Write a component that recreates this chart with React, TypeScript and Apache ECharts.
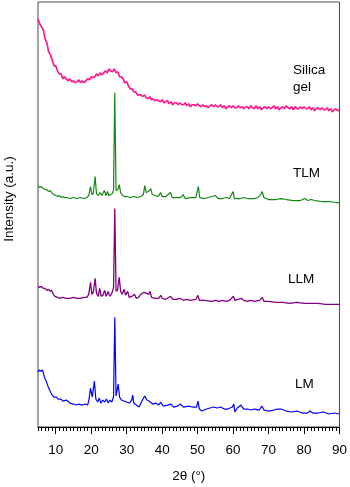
import React, { useEffect, useRef } from "react";
import * as echarts from "echarts";

// 2θ sampling grid for the silica gel pattern (degrees)
const silicaTwoTheta: number[] = Array.from({ length: 171 }, (_, i) => 5 + i * 0.5);

// Silica gel intensities (a.u., stacked offset included)
const silicaIntensity: number[] = [
  409, 404, 401, 398, 389, 385, 376, 373, 368, 362,
  362, 357, 354, 354, 349, 351, 349, 347, 349, 346,
  347, 345, 346, 348, 345, 347, 345, 347, 349, 348,
  351, 350, 351, 354, 352, 355, 353, 355, 357, 355,
  359, 357, 356, 359, 355, 356, 351, 351, 349, 345,
  346, 342, 339, 339, 336, 336, 333, 333, 333, 331,
  333, 330, 329, 331, 328, 329, 327, 328, 327, 326,
  328, 325, 326, 327, 324, 326, 323, 325, 325, 323,
  325, 323, 323, 325, 322, 324, 321, 323, 323, 322,
  324, 322, 321, 323, 321, 322, 320, 322, 323, 321,
  323, 321, 321, 323, 320, 322, 319, 321, 322, 320,
  322, 320, 320, 322, 320, 321, 319, 321, 321, 319,
  322, 320, 319, 322, 319, 321, 318, 320, 321, 319,
  321, 319, 320, 322, 319, 321, 318, 320, 321, 319,
  322, 320, 319, 321, 318, 321, 319, 319, 321, 319,
  321, 319, 319, 321, 318, 320, 317, 319, 320, 318,
  320, 318, 318, 320, 317, 319, 316, 318, 319, 317,
  318,
];

// TLM pattern: [2θ, intensity]
const tlmPattern: [number, number][] = [
  [5, 242], [5.5, 240], [6, 241], [6.5, 239], [7, 238], [7.5, 238], [8, 236], [8.5, 237],
  [9, 234], [9.5, 233], [10, 232], [10.5, 231], [11, 232], [11.5, 230], [12, 231], [12.5, 230],
  [13, 230], [14, 229], [15, 230], [16, 229], [17, 230], [18, 229], [18.8, 230], [19.3, 232],
  [19.8, 241], [20.2, 233], [20.6, 234], [21.1, 251], [21.5, 234], [22, 232], [22.5, 235],
  [23, 232], [23.7, 237], [24.2, 232], [24.6, 236], [25, 232], [25.5, 233], [26.0, 234],
  [26.3, 238], [26.65, 335], [27.0, 237], [27.5, 238], [27.9, 243], [28.3, 235], [28.8, 232],
  [29.5, 231], [30, 231], [31, 230], [32, 231], [33, 230], [34, 231], [34.7, 233], [35.1, 242],
  [35.5, 235], [36.1, 236], [36.8, 239], [37.2, 233], [38, 232], [38.8, 231], [39.6, 235],
  [40, 231], [41, 231], [42.4, 235], [42.8, 230], [44, 230], [45.2, 230], [45.9, 233],
  [46.5, 229], [48, 230], [49.5, 230], [50.2, 241], [50.6, 230], [52, 229], [53, 230],
  [55, 232], [55.8, 229], [57, 229], [58, 230], [59, 229], [60, 236], [60.4, 229], [62, 229],
  [63, 230], [64, 229], [65, 229], [66, 229], [67, 230], [67.8, 233], [68.2, 236], [68.7, 230],
  [70, 228], [72, 228], [73.5, 229], [75, 228], [77, 227], [79, 227], [80.2, 229], [81, 227],
  [82, 228], [83, 227], [85, 226], [87, 226], [89, 225], [90, 225],
];

// LLM pattern: [2θ, intensity]
const llmPattern: [number, number][] = [
  [5, 141], [5.5, 140], [6, 141], [6.5, 139], [7, 139], [7.5, 137], [8, 138], [8.5, 136],
  [8.8, 137], [9.3, 133], [9.75, 131], [10.5, 130], [11, 129], [12, 130], [13, 129], [14, 129],
  [15, 130], [16, 129], [17, 129], [18, 130], [18.8, 130], [19.3, 133], [19.8, 145], [20.2, 133],
  [20.6, 135], [21.1, 149], [21.5, 134], [22, 131], [22.4, 139], [22.8, 131], [23.3, 132],
  [23.8, 137], [24.2, 131], [24.8, 136], [25.2, 131], [25.7, 133], [26.0, 136], [26.3, 140],
  [26.65, 219], [27.0, 136], [27.4, 137], [27.9, 150], [28.3, 136], [28.7, 133], [29.3, 138],
  [29.7, 132], [30.3, 136], [30.7, 130], [31.5, 131], [32.2, 133], [32.7, 129], [33.3, 130],
  [34, 133], [34.9, 135], [35.6, 134], [36.2, 133], [36.6, 136], [37.0, 130], [38, 129],
  [39, 129], [39.6, 132], [40, 129], [41, 128], [42.4, 131], [43, 128], [44, 128], [45, 129],
  [46, 127], [47, 128], [48, 127], [49.5, 128], [50.1, 132], [50.5, 127], [52, 127], [54, 126],
  [55, 127], [56, 126], [57, 127], [58, 126], [59, 127], [60.1, 131], [60.5, 127], [61.5, 128],
  [62.3, 129], [63, 127], [64, 126], [65, 127], [66, 126], [67.5, 127], [68.2, 130], [68.7, 126],
  [70, 126], [72, 125], [74, 125], [76, 124], [78, 125], [80, 124], [82, 124], [84, 124],
  [86, 123], [88, 123], [90, 123],
];

// LM pattern: [2θ, intensity]
const lmPattern: [number, number][] = [
  [5, 55], [5.3, 57], [5.8, 56], [6.3, 57], [6.8, 50], [7.4, 45], [8, 39], [8.8, 33], [9.5, 30],
  [10.2, 30], [10.7, 28], [11.5, 28], [12, 26], [13, 27], [14, 24], [15, 23], [15.8, 22],
  [16.5, 23], [17.5, 22], [18.3, 23], [19, 22], [19.4, 28], [19.8, 39], [20.3, 30], [20.9, 46],
  [21.3, 28], [21.8, 25], [22.3, 29], [22.7, 24], [23.3, 27], [23.8, 25], [24.3, 28], [24.8, 24],
  [25.3, 27], [25.8, 25], [26.3, 30], [26.65, 110], [27.0, 31], [27.6, 43], [28.0, 30],
  [28.5, 27], [29.2, 26], [30, 25], [30.8, 24], [31.4, 27], [31.7, 32], [32.0, 24], [32.7, 22],
  [33.5, 20], [34.3, 26], [35.1, 31], [35.7, 27], [36.3, 26], [37.3, 23], [38.2, 24], [39.0, 22],
  [39.6, 25], [40.3, 21], [41.5, 22], [42.5, 23], [43.2, 20], [44.3, 21], [45.2, 23], [46.0, 20],
  [47.5, 21], [48.5, 20], [49.7, 20], [50.1, 26], [50.5, 18], [51.2, 16], [52.5, 18], [53.5, 19],
  [54.5, 20], [55.5, 19], [56.5, 20], [57.5, 18], [58.5, 18], [59.8, 20], [60.2, 23], [60.5, 15],
  [61.2, 19], [62.2, 22], [63, 18], [64, 18], [65, 17], [66, 18], [67.4, 17], [68.1, 21],
  [68.7, 17], [70, 16], [71.5, 17], [72.5, 18], [73.5, 18], [75, 16], [76.5, 15], [78, 16],
  [79.5, 14], [81, 14], [81.7, 16], [82.5, 14], [84, 14], [85.5, 15], [87, 13], [88.5, 14],
  [90, 13],
];

const majorTicks: number[] = [10, 20, 30, 40, 50, 60, 70, 80, 90];
const minorTicks: number[] = Array.from({ length: 86 }, (_, i) => 5 + i);

const FONT = "'Liberation Sans', Arial, sans-serif";

export default function App() {
  const ref = useRef<HTMLDivElement>(null);
  useEffect(() => {
    if (!ref.current) return;
    const chart = echarts.init(ref.current, null, { renderer: "svg" });
    const silicaData = silicaTwoTheta.map((x, i) => [x, silicaIntensity[i]]);
    const lineSeries = (name: string, data: any[], color: string, width: number) => ({
      name,
      type: "line",
      data,
      xAxisIndex: 0,
      yAxisIndex: 0,
      showSymbol: false,
      symbol: "none",
      lineStyle: { color, width },
      itemStyle: { color },
      emphasis: { disabled: true },
    });
    const textStyle = { fill: "#000", fontSize: 13.5, fontFamily: FONT };
    chart.setOption({
      animation: false,
      grid: {
        left: 38,
        right: 8,
        top: 2,
        bottom: 59,
        show: true,
        borderColor: "#4a4a4a",
        borderWidth: 1,
        backgroundColor: "transparent",
      },
      xAxis: [
        {
          type: "value",
          min: 5,
          max: 90,
          position: "bottom",
          axisLine: { show: true, onZero: false, lineStyle: { color: "#000", width: 1 } },
          axisTick: { show: true, customValues: majorTicks, length: 7, lineStyle: { color: "#000" } },
          axisLabel: { customValues: majorTicks, fontSize: 13.5, color: "#000", margin: 15, fontFamily: FONT },
          splitLine: { show: false },
          name: "2θ (°)",
          nameLocation: "middle",
          nameGap: 41,
          nameTextStyle: { fontSize: 13.5, color: "#000", fontFamily: FONT },
        },
        {
          type: "value",
          min: 5,
          max: 90,
          position: "bottom",
          offset: 0,
          axisLine: { show: false },
          axisTick: { show: true, customValues: minorTicks, length: 4, lineStyle: { color: "#000" } },
          axisLabel: { show: false },
          splitLine: { show: false },
        },
      ],
      yAxis: {
        type: "value",
        min: 0,
        max: 426,
        axisLine: { show: false },
        axisTick: { show: false },
        axisLabel: { show: false },
        splitLine: { show: false },
      },
      series: [
        lineSeries("Silica gel", silicaData, "#ff1a8c", 1.7),
        lineSeries("TLM", tlmPattern, "#118811", 1.2),
        lineSeries("LLM", llmPattern, "#800080", 1.3),
        lineSeries("LM", lmPattern, "#0000ff", 1.2),
      ],
      graphic: [
        { type: "text", x: 293, y: 69, style: { ...textStyle, text: "Silica", textAlign: "left", textVerticalAlign: "middle" } },
        { type: "text", x: 293, y: 86, style: { ...textStyle, text: "gel", textAlign: "left", textVerticalAlign: "middle" } },
        { type: "text", x: 293, y: 172, style: { ...textStyle, text: "TLM", textAlign: "left", textVerticalAlign: "middle" } },
        { type: "text", x: 288, y: 278, style: { ...textStyle, text: "LLM", textAlign: "left", textVerticalAlign: "middle" } },
        { type: "text", x: 295, y: 383, style: { ...textStyle, text: "LM", textAlign: "left", textVerticalAlign: "middle" } },
        {
          type: "text",
          x: 8,
          y: 199,
          rotation: Math.PI / 2,
          style: { ...textStyle, text: "Intensity (a.u.)", textAlign: "center", textVerticalAlign: "middle" },
        },
      ],
    });
    return () => chart.dispose();
  }, []);
  return <div ref={ref} style={{ position: "fixed", left: 0, top: 0, width: 350, height: 487 }} />;
}
